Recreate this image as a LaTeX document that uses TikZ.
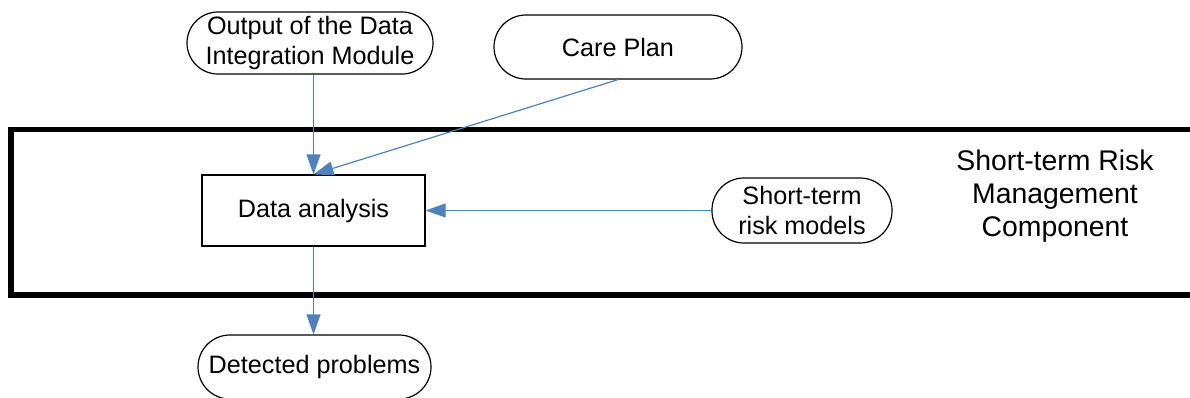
\documentclass[tikz,border=0pt]{standalone}
\usepackage{fontspec}
\setmainfont{Liberation Sans}
\usetikzlibrary{arrows.meta}
\definecolor{flowblue}{HTML}{4F81BD}
\begin{document}
\begin{tikzpicture}[x=0.5pt,y=-0.5pt,
  pill/.style={draw=black,line width=0.6pt,rounded corners=#1,align=center,
    inner sep=0pt,font=\fontsize{12.6}{15.4}\selectfont},
  procbox/.style={draw=black,line width=0.6pt,align=center,inner sep=0pt,
    font=\fontsize{12.6}{15.4}\selectfont,minimum width=111.5pt,minimum height=35.5pt},
  flow/.style={draw=flowblue,line width=0.6pt,
    -{Triangle[length=10pt,width=7pt]}},
  boundary/.style={draw=black,line width=2.6pt,line join=miter}]
  \useasboundingbox (0,0) rectangle (1190,397);

  % component boundary, open towards the right
  \coordinate (bTR) at (1210,129.5);
  \coordinate (bTL) at (11,129.5);
  \coordinate (bBL) at (11,295);
  \coordinate (bBR) at (1210,295);
  \path[boundary] (bTR) -- (bTL) -- (bBL) -- (bBR);

  \node[anchor=center,align=center,font=\fontsize{14.2}{16.6}\selectfont]
    (lbl) at (1055,196) {Short-term Risk\\Management\\Component};

  % inputs and outputs
  \node[pill=15.5pt,minimum width=123pt,minimum height=31pt] (out) at (310,43)
    {Output of the Data\\Integration Module};
  \node[pill=16pt,minimum width=124pt,minimum height=32pt] (care) at (618,47)
    {Care Plan};
  \node[procbox] (da) at (313.5,210.5) {Data analysis};
  \node[pill=16pt,minimum width=90pt,minimum height=32.5pt] (srm) at (802,210.5)
    {Short-term\\risk models};
  \node[pill=16pt,minimum width=116.5pt,minimum height=32pt] (det) at (314.5,367)
    {Detected problems};

  % flows
  \draw[flow] (out.south -| da.north) -- (da.north);
  \draw[flow] (care.south) -- (da.north);
  \draw[flow] (srm.west) -- (da.east);
  \draw[flow] (da.south) -- (da.south |- det.north);
\end{tikzpicture}
\end{document}
